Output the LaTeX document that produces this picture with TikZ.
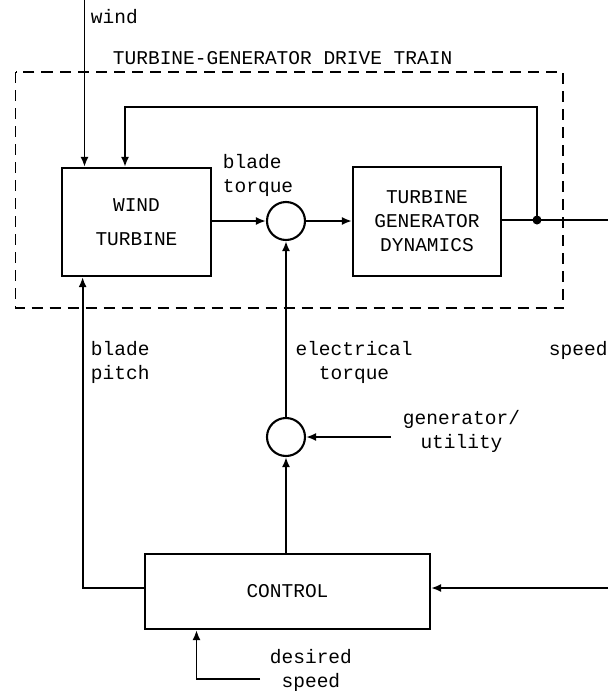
\documentclass[tikz,border=0pt]{standalone}
\usepackage{fontspec}
\setmonofont{Liberation Mono}
\usetikzlibrary{arrows.meta}
\begin{document}
\begin{tikzpicture}[x=1pt,y=-1pt,
  line width=1.9pt,
  every node/.style={font=\ttfamily\fontsize{19.5}{24}\selectfont},
  blk/.style={draw, rectangle, line width=2.1pt, align=center, inner sep=0pt},
  sumc/.style={draw, circle, minimum size=38pt, inner sep=0pt, line width=2.1pt},
  lbl/.style={align=left, inner sep=0pt, anchor=west},
  arr/.style={-{Latex[length=10pt,width=8pt]}},
  frame/.style={line width=1.8pt, dash pattern=on 11pt off 7pt},
  dotj/.style={circle, fill, inner sep=0pt, minimum size=9pt}]
\useasboundingbox (0,0) rectangle (608,691);
% drive-train frame
\draw[frame] (15.5,72) rectangle (563,308);
\node[lbl] (title) at (112,58) {TURBINE-GENERATOR DRIVE TRAIN};
% blocks
\node[blk, minimum width=149pt, minimum height=108pt] (wt) at (136.5,222) {WIND\\[10pt]TURBINE};
\node[sumc] (s1) at (286,221) {};
\node[blk, minimum width=148pt, minimum height=109pt] (tg) at (427,221.5) {TURBINE\\GENERATOR\\DYNAMICS};
\node[dotj] (j) at (537,220) {};
\node[sumc] (s2) at (286,437) {};
\node[blk, minimum width=285pt, minimum height=75pt] (ctl) at (287.5,591.5) {CONTROL};
% free ends
\coordinate (wtop) at (84.5,0);
\coordinate (outR) at (608,220);
\coordinate (spdR) at (608,588);
\coordinate (gu) at (391,437);
\coordinate (ds) at (260,679);
% labels
\node[lbl] (wind) at (90,17) {wind};
\node[lbl] (bt) at (222,175) {blade\\torque};
\node[lbl] (bp) at (90,362) {blade\\pitch};
\node[lbl, align=center] (et) at (294.6,362) {electrical\\torque};
\node[lbl] (spd) at (548,350) {speed};
\node[lbl, align=center] (gul) at (402,431) {generator/\\utility};
\node[lbl, align=center] (dsl) at (269,670) {desired\\speed};
% connectors
\draw[arr] (wtop) -- (wtop |- wt.north);
\draw[arr] (wt.east |- s1) -- (s1.west);
\draw[arr] (s1.east) -- (tg.west |- s1);
\draw (tg.east |- j) -- (outR);
\draw[arr] (j.center) -- (537,107) -- (125,107) -- (125,0 |- wt.north);
\draw[arr] (ctl.north -| s2) -- (s2.south);
\draw[arr] (s2.north) -- (s1.south);
\draw[arr] (gu) -- (s2.east);
\draw[arr] (ctl.west |- 0,588) -- (82.6,588) -- (82.6,0 |- wt.south);
\draw[arr] (spdR) -- (ctl.east |- spdR);
\draw[arr] (ds) -- (196.5,679) -- (196.5,0 |- ctl.south);
\end{tikzpicture}
\end{document}
